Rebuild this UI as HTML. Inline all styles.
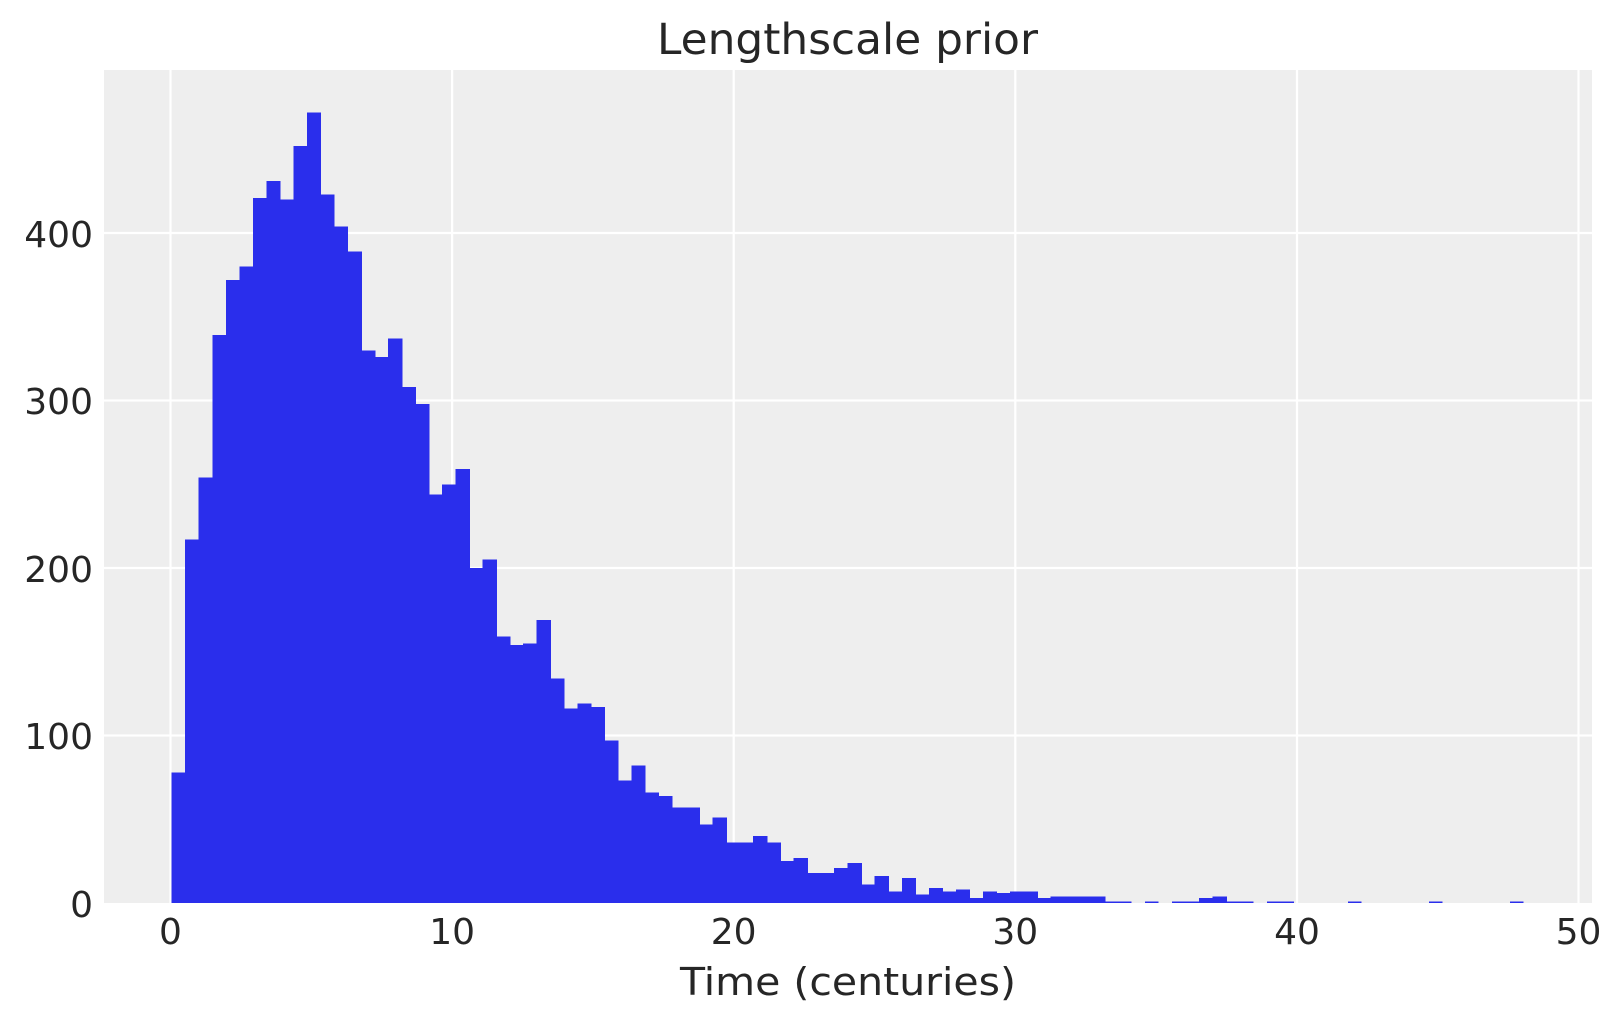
<!DOCTYPE html>
<html><head><meta charset="utf-8">
<style>
html,body{margin:0;padding:0;background:#fff;}
svg{display:block;}
text{font-family:"DejaVu Sans","Liberation Sans",sans-serif;fill:#262626;}
</style></head>
<body>
<svg id="s" width="1623" height="1023" viewBox="0 0 1623 1023" xmlns="http://www.w3.org/2000/svg">
<rect x="104" y="70" width="1488" height="833" fill="#eeeeee"/>
<g stroke="#ffffff" stroke-width="2.2">
<line x1="170.5" y1="70" x2="170.5" y2="903"/>
<line x1="452.1" y1="70" x2="452.1" y2="903"/>
<line x1="733.7" y1="70" x2="733.7" y2="903"/>
<line x1="1015.3" y1="70" x2="1015.3" y2="903"/>
<line x1="1297" y1="70" x2="1297" y2="903"/>
<line x1="1578.5" y1="70" x2="1578.5" y2="903"/>
<line x1="104" y1="735.5" x2="1592" y2="735.5"/>
<line x1="104" y1="568" x2="1592" y2="568"/>
<line x1="104" y1="400.5" x2="1592" y2="400.5"/>
<line x1="104" y1="233" x2="1592" y2="233"/>
</g>
<g id="bars" fill="#2a2eec" shape-rendering="crispEdges"></g>
<g font-size="36" text-anchor="middle">
<text x="170.5" y="944">0</text>
<text x="452.1" y="944">10</text>
<text x="733.7" y="944">20</text>
<text x="1015.3" y="944">30</text>
<text x="1297" y="944">40</text>
<text x="1578.5" y="944">50</text>
</g>
<g font-size="36" text-anchor="end">
<text x="93" y="917">0</text>
<text x="93" y="749">100</text>
<text x="93" y="582">200</text>
<text x="93" y="414">300</text>
<text x="93" y="247">400</text>
</g>
<text x="848" y="995" font-size="38" text-anchor="middle" textLength="336" lengthAdjust="spacingAndGlyphs">Time (centuries)</text>
<text x="847.5" y="54" font-size="43" text-anchor="middle" textLength="381" lengthAdjust="spacingAndGlyphs">Lengthscale prior</text>
</svg>
<script>
var c=[78,217,254,339,372,380,421,431,420,452,472,423,404,389,330,326,337,308,298,244,250,259,200,205,159,154,155,169,134,116,119,117,97,73,82,66,64,57,57,47,51,36,36,40,36,25,27,18,18,21,24,11,16,7,15,5,9,7,8,3,7,6,7,7,3,4,4,4,4,1,1,0,1,0,1,1,3,4,1,1,0,1,1,0,0,0,0,1,0,0,0,0,0,1,0,0,0,0,0,1];
var g=document.getElementById('bars'),ns='http://www.w3.org/2000/svg';
for(var i=0;i<c.length;i++){if(!c[i])continue;var r=document.createElementNS(ns,'rect');
var x=171.7+13.52*i,h=c[i]*1.675;r.setAttribute('x',x.toFixed(2));
r.setAttribute('width',(c[i+1]?14.3:13.52).toFixed(2));
r.setAttribute('y',(903-h).toFixed(2));r.setAttribute('height',h.toFixed(2));g.appendChild(r);}
</script>
</body></html>
